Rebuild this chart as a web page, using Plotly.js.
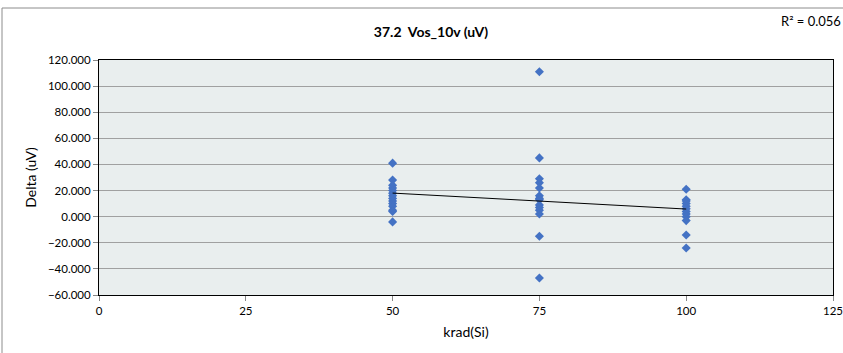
<!DOCTYPE html>
<html>
<head>
<meta charset="utf-8">
<script src="https://cdn.plot.ly/plotly-3.0.1.min.js"></script>
<style>html,body{margin:0;padding:0;background:#fff;}#chart{width:843px;height:353px;}</style>
</head>
<body>
<div id="chart"></div>
<script>
// Data
const dose50 = [41, 28, 24, 22, 20, 18, 16, 14, 12, 10, 8, 5, 4, -4];
const dose75 = [111, 45, 29, 26, 22, 16, 14, 13, 9, 7, 5, 2, -15, -47];
const dose100 = [21, 13, 12, 10, 8, 6, 4, 2, 0, -3, -14, -24];
const doses = [50, 75, 100];
const chartTitle = '37.2  Vos_10v (uV)';
const r2Label = 'R\u00B2 = 0.056';

const xs = [], ys = [];
[dose50, dose75, dose100].forEach((arr, i) => arr.forEach(v => { xs.push(doses[i]); ys.push(v); }));

// Linear least-squares trendline
const n = xs.length;
const mx = xs.reduce((a,b)=>a+b,0)/n, my = ys.reduce((a,b)=>a+b,0)/n;
let sxy = 0, sxx = 0;
for (let i=0;i<n;i++){ sxy += (xs[i]-mx)*(ys[i]-my); sxx += (xs[i]-mx)**2; }
const slope = sxy/sxx, icpt = my - slope*mx;
const lineX = [doses[0], doses[doses.length-1]];
const lineY = lineX.map(x => icpt + slope*x);

const font = 'Lato, "Open Sans", sans-serif';
const data = [
  {x: xs, y: ys, type: 'scatter', mode: 'markers',
   marker: {symbol: 'diamond', size: 7, color: '#4472C4'}, showlegend: false, hoverinfo: 'skip'},
  {x: lineX, y: lineY, type: 'scatter', mode: 'lines',
   line: {color: '#000', width: 1}, showlegend: false, hoverinfo: 'skip'}
];
const layout = {
  width: 843, height: 353,
  margin: {l: 99, r: 10, t: 60, b: 58},
  paper_bgcolor: '#fff', plot_bgcolor: '#E9EEEE',
  font: {family: font, size: 12, color: '#000'},
  title: {text: '<b>' + chartTitle + '</b>', x: 431/843, xref: 'container', xanchor: 'center',
          y: 1 - 32/353, yref: 'container', yanchor: 'middle', font: {family: font, size: 14, color: '#000'}},
  xaxis: {range: [0, 125], dtick: 25, tick0: 0, showgrid: false, zeroline: false,
          showline: true, linecolor: '#000', linewidth: 1, mirror: true,
          ticks: 'outside', ticklen: 5, tickcolor: '#888', ticklabeloverflow: 'allow',
          tickfont: {size: 11.5, family: font},
          title: {text: 'krad(Si)', font: {size: 14, family: font}, standoff: 11}},
  yaxis: {range: [-60, 120], dtick: 20, tick0: 0, tickformat: '.3f',
          showgrid: true, gridcolor: '#A0A0A0', gridwidth: 1, zeroline: false,
          showline: true, linecolor: '#000', linewidth: 1, mirror: true,
          ticks: 'outside', ticklen: 5, tickcolor: '#888',
          tickfont: {size: 11.5, family: font},
          title: {text: 'Delta (uV)', font: {size: 14, family: font}, standoff: 8}},
  annotations: [
    {text: r2Label, xref: 'paper', yref: 'paper', x: (843-99)/734, y: (295-21)/235,
     xanchor: 'right', yanchor: 'middle', showarrow: false, font: {size: 13, family: font, color: '#000'}}
  ],
  shapes: [
    {type: 'line', xref: 'paper', yref: 'paper', x0: (2-99)/734, x1: (2-99)/734, y0: (295-8)/235, y1: -1,
     line: {color: '#8C8C8C', width: 1}},
    {type: 'line', xref: 'paper', yref: 'paper', x0: (2-99)/734, x1: 2, y0: (295-8)/235, y1: (295-8)/235,
     line: {color: '#8C8C8C', width: 1}}
  ]
};
Plotly.newPlot('chart', data, layout, {staticPlot: true, displayModeBar: false});
</script>
</body>
</html>
